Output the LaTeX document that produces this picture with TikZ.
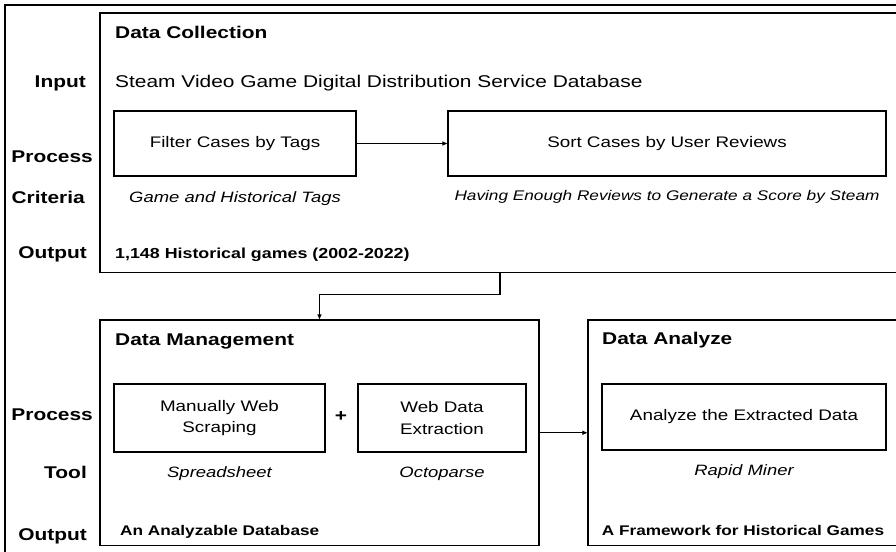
\documentclass[tikz,border=0pt]{standalone}
\usepackage{fontspec}
\setmainfont{Liberation Sans}[FakeStretch=1.23]
\usepackage{tikz}
\usetikzlibrary{arrows.meta,positioning}

\begin{document}
\begin{tikzpicture}[
    x=1pt, y=-1pt,
    line/.style={-{Triangle[length=5pt,width=4pt]}, line width=1.2pt},
    stage/.style={draw, line width=1.3pt, inner sep=0pt},
    stepbox/.style={draw, line width=1.3pt, align=center, inner sep=0pt, font=\fontsize{15.3}{21.7}\selectfont},
    title/.style={anchor=base west, inner sep=0pt, font=\fontsize{17}{20}\selectfont\bfseries},
    rowlabel/.style={anchor=base east, inner sep=0pt, font=\fontsize{17}{20}\selectfont\bfseries},
    note/.style={inner sep=0pt, font=\fontsize{15}{18}\selectfont\itshape},
    result/.style={inner sep=0pt, font=\fontsize{14}{17}\selectfont\bfseries}
  ]
  \useasboundingbox (0,0) rectangle (896,551);
  \draw[line width=1.3pt] (5,600) |- (900,5);

  % data collection
  \node[stage, minimum width=800pt, minimum height=259.6pt] (collect) at (500,142.8) {};
  \node[title] (ctitle) at (115,39) {Data Collection};
  \node[rowlabel] (lin) at (86,87) {Input};
  \node[anchor=base west, inner sep=0pt, font=\fontsize{17}{20}\selectfont] (input) at (115,87) {Steam Video Game Digital Distribution Service Database};
  \node[rowlabel] (lproc) at (93,162) {Process};
  \node[rowlabel] (lcrit) at (85,203) {Criteria};
  \node[rowlabel] (lout) at (87,258) {Output};

  \node[stepbox, minimum width=242pt, minimum height=65pt] (filter) at (235,143.5) {Filter Cases by Tags};
  \node[stepbox, minimum width=438pt, minimum height=65pt] (sort) at (667,143.5) {Sort Cases by User Reviews};
  \draw[line] (filter) -- (sort);
  \node[note, below=25.5pt of filter.south, anchor=base] (crit1) {Game and Historical Tags};
  \node[note, below=23.5pt of sort.south, anchor=base, font=\fontsize{14}{17}\selectfont\itshape] (crit2) {Having Enough Reviews to Generate a Score by Steam};
  \node[result, anchor=base west, font=\fontsize{14.5}{17}\selectfont\bfseries] (cout) at (115,258) {1,148 Historical games (2002-2022)};

  % data management
  \node[stage, minimum width=439pt, minimum height=225.5pt] (manage) at (319.5,432.75) {};
  \draw[line] (collect.south) -- ++(0,21) -| (manage.north);
  \node[title] (mtitle) at (115,345) {Data Management};
  \node[rowlabel] (lproc2) at (93,420) {Process};
  \node[rowlabel] (ltool) at (87,478) {Tool};
  \node[rowlabel] (lout2) at (87,540) {Output};

  \node[stepbox, minimum width=211pt, minimum height=68pt] (manual) at (219.5,418) {Manually Web\\Scraping};
  \node[inner sep=0pt, font=\fontsize{17}{20}\selectfont\bfseries] (plus) at (341,417) {+};
  \node[stepbox, minimum width=168pt, minimum height=68pt] (webx) at (442,418) {Web Data\\Extraction};
  \node[note, below=25pt of manual.south, anchor=base] (tool1) {Spreadsheet};
  \node[note, below=25pt of webx.south, anchor=base] (tool2) {Octoparse};
  \node[result, anchor=base west] (mout) at (120,535) {An Analyzable Database};

  % data analyze
  \node[stage, minimum width=312pt, minimum height=225.5pt] (analyze) at (744,432.75) {};
  \draw[line] (manage) -- (analyze);
  \node[title] (atitle) at (602,344) {Data Analyze};
  \node[stepbox, minimum width=284pt, minimum height=66pt] (analysis) at (744,417) {Analyze the Extracted Data};
  \node[note, below=25pt of analysis.south, anchor=base] (tool3) {Rapid Miner};
  \node[result, anchor=base] (aout) at (743,535) {A Framework for Historical Games};
\end{tikzpicture}
\end{document}
